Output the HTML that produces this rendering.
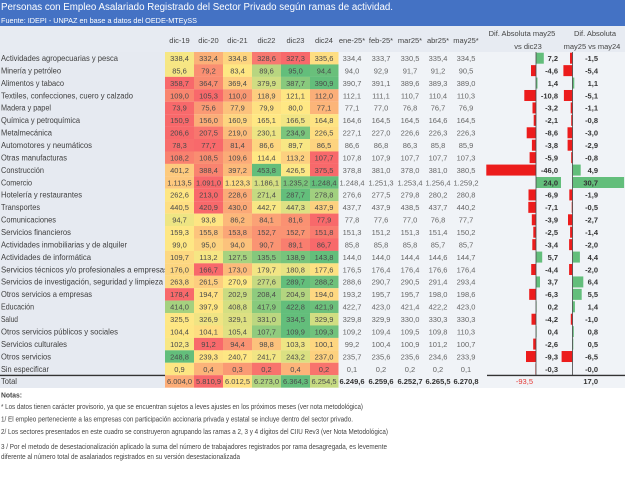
<!DOCTYPE html>
<html><head><meta charset="utf-8">
<style>
html,body{margin:0;padding:0;background:#fff;}
svg{display:block}
.t{font-family:"Liberation Sans",sans-serif;}
.l{font-family:"Liberation Sans",sans-serif;font-size:8px;fill:#404040}
.h{font-family:"Liberation Sans",sans-serif;font-size:7.5px;fill:#4a4a4a;text-anchor:middle}
.v{font-family:"Liberation Sans",sans-serif;font-size:7.5px;fill:#666;text-anchor:middle}
.vb{font-family:"Liberation Sans",sans-serif;font-size:7.5px;font-weight:bold;fill:#333;text-anchor:middle}
.d{font-family:"Liberation Sans",sans-serif;font-size:7.5px;font-weight:bold;fill:#333;text-anchor:end}
.hd{font-family:"Liberation Sans",sans-serif;font-size:7.5px;fill:#444;text-anchor:middle}
.n{font-family:"Liberation Sans",sans-serif;font-size:7px;fill:#444}
.g{fill:#63be7b}.r{fill:#ec1c1c}
</style></head>
<body>
<svg width="631" height="486" viewBox="0 0 631 486" xmlns="http://www.w3.org/2000/svg">
<rect x="0" y="0" width="631" height="486" fill="#fff"/>
<rect x="0" y="0" width="625" height="26" fill="#4472c4"/>
<text class="t" x="1" y="10" font-size="10" fill="#fff" textLength="392" lengthAdjust="spacingAndGlyphs">Personas con Empleo Asalariado Registrado del Sector Privado según ramas de actividad.</text>
<text class="t" x="1" y="23" font-size="7.5" fill="#fff" textLength="196" lengthAdjust="spacingAndGlyphs">Fuente: IDEPI - UNPAZ en base a datos del OEDE-MTEySS</text>
<rect x="0" y="26" width="625" height="26" fill="#e7ebf2"/>
<rect x="0" y="52" width="165" height="336" fill="#e6eaf1"/>
<rect x="338" y="52" width="287" height="336" fill="#f0f3f7"/>
<text class="hd" x="179.5" y="43">dic-19</text>
<text class="hd" x="208.5" y="43">dic-20</text>
<text class="hd" x="237.5" y="43">dic-21</text>
<text class="hd" x="266.5" y="43">dic22</text>
<text class="hd" x="295.5" y="43">dic23</text>
<text class="hd" x="324" y="43">dic24</text>
<text class="hd" x="352" y="43">ene-25*</text>
<text class="hd" x="381" y="43">feb-25*</text>
<text class="hd" x="410" y="43">mar25*</text>
<text class="hd" x="438" y="43">abr25*</text>
<text class="hd" x="466" y="43">may25*</text>
<text class="hd" x="522" y="36">Dif. Absoluta may25</text>
<text class="hd" x="528" y="49">vs dic23</text>
<text class="hd" x="595" y="36">Dif. Absoluta</text>
<text class="hd" x="592" y="49">may25 vs may24</text>

<!-- Row 1 -->
<g transform="translate(0,52)">
<text class="l" x="1" y="9" textLength="117" lengthAdjust="spacingAndGlyphs">Actividades agropecuarias y pesca</text>
<rect x="165" width="29" height="12.5" fill="#f6e784"/><rect x="194" width="29" height="12.5" fill="#fbb078"/><rect x="223" width="29" height="12.5" fill="#fdd580"/><rect x="252" width="29" height="12.5" fill="#f87870"/><rect x="281" width="29" height="12.5" fill="#f8696b"/><rect x="310" width="28.5" height="12.5" fill="#fede82"/>
<text class="h" x="179.5" y="9">338,4</text><text class="h" x="208.5" y="9">332,4</text><text class="h" x="237.5" y="9">334,8</text><text class="h" x="266.5" y="9">328,6</text><text class="h" x="295.5" y="9">327,3</text><text class="h" x="324" y="9">335,6</text>
<text class="v" x="352" y="9">334,4</text><text class="v" x="381" y="9">333,7</text><text class="v" x="410" y="9">330,5</text><text class="v" x="438" y="9">335,4</text><text class="v" x="466" y="9">334,5</text>
<rect class="g" x="536" y="0.7" width="7.8" height="11"/><rect class="r" x="570" y="0.7" width="2.5" height="11"/>
<text class="d" x="558" y="9">7,2</text><text class="d" x="598" y="9">-1,5</text>
</g>
<!-- Row 2 -->
<g transform="translate(0,64.43)">
<text class="l" x="1" y="9" textLength="60" lengthAdjust="spacingAndGlyphs">Minería y petróleo</text>
<rect x="165" width="29" height="12.5" fill="#f6e684"/><rect x="194" width="29" height="12.5" fill="#fa8f72"/><rect x="223" width="29" height="12.5" fill="#fee783"/><rect x="252" width="29" height="12.5" fill="#b8d680"/><rect x="281" width="29" height="12.5" fill="#63be7b"/><rect x="310" width="28.5" height="12.5" fill="#69c07b"/>
<text class="h" x="179.5" y="9">85,6</text><text class="h" x="208.5" y="9">79,2</text><text class="h" x="237.5" y="9">83,4</text><text class="h" x="266.5" y="9">89,6</text><text class="h" x="295.5" y="9">95,0</text><text class="h" x="324" y="9">94,4</text>
<text class="v" x="352" y="9">94,0</text><text class="v" x="381" y="9">92,9</text><text class="v" x="410" y="9">91,7</text><text class="v" x="438" y="9">91,2</text><text class="v" x="466" y="9">90,5</text>
<rect class="r" x="531" y="0.7" width="5" height="11"/><rect class="r" x="563.4" y="0.7" width="9.1" height="11"/>
<text class="d" x="558" y="9">-4,6</text><text class="d" x="598" y="9">-5,4</text>
</g>
<!-- Row 3 -->
<g transform="translate(0,76.86)">
<text class="l" x="1" y="9" textLength="63" lengthAdjust="spacingAndGlyphs">Alimentos y tabaco</text>
<rect x="165" width="29" height="12.5" fill="#f8696b"/><rect x="194" width="29" height="12.5" fill="#f98c71"/><rect x="223" width="29" height="12.5" fill="#fdcc7f"/><rect x="252" width="29" height="12.5" fill="#d0dd82"/><rect x="281" width="29" height="12.5" fill="#88c97d"/><rect x="310" width="28.5" height="12.5" fill="#63be7b"/>
<text class="h" x="179.5" y="9">358,7</text><text class="h" x="208.5" y="9">364,7</text><text class="h" x="237.5" y="9">369,4</text><text class="h" x="266.5" y="9">379,9</text><text class="h" x="295.5" y="9">387,7</text><text class="h" x="324" y="9">390,9</text>
<text class="v" x="352" y="9">390,7</text><text class="v" x="381" y="9">391,1</text><text class="v" x="410" y="9">389,6</text><text class="v" x="438" y="9">389,3</text><text class="v" x="466" y="9">389,0</text>
<rect class="g" x="536" y="0.7" width="1.5" height="11"/><rect class="g" x="572.5" y="0.7" width="1.8" height="11"/>
<text class="d" x="558" y="9">1,4</text><text class="d" x="598" y="9">1,1</text>
</g>
<!-- Row 4 -->
<g transform="translate(0,89.29)">
<text class="l" x="1" y="9" textLength="132" lengthAdjust="spacingAndGlyphs">Textiles, confecciones, cuero y calzado</text>
<rect x="165" width="29" height="12.5" fill="#f9866f"/><rect x="194" width="29" height="12.5" fill="#f8696b"/><rect x="223" width="29" height="12.5" fill="#fa9873"/><rect x="252" width="29" height="12.5" fill="#fdcd7f"/><rect x="281" width="29" height="12.5" fill="#fee683"/><rect x="310" width="28.5" height="12.5" fill="#fbae78"/>
<text class="h" x="179.5" y="9">109,0</text><text class="h" x="208.5" y="9">105,3</text><text class="h" x="237.5" y="9">110,0</text><text class="h" x="266.5" y="9">118,9</text><text class="h" x="295.5" y="9">121,1</text><text class="h" x="324" y="9">112,0</text>
<text class="v" x="352" y="9">112,1</text><text class="v" x="381" y="9">111,1</text><text class="v" x="410" y="9">110,7</text><text class="v" x="438" y="9">110,4</text><text class="v" x="466" y="9">110,3</text>
<rect class="r" x="524.3" y="0.7" width="11.7" height="11"/><rect class="r" x="563.9" y="0.7" width="8.6" height="11"/>
<text class="d" x="558" y="9">-10,8</text><text class="d" x="598" y="9">-5,1</text>
</g>
<!-- Row 5 -->
<g transform="translate(0,101.72)">
<text class="l" x="1" y="9" textLength="50" lengthAdjust="spacingAndGlyphs">Madera y papel</text>
<rect x="165" width="29" height="12.5" fill="#f8696b"/><rect x="194" width="29" height="12.5" fill="#fa9a74"/><rect x="223" width="29" height="12.5" fill="#fcc27c"/><rect x="252" width="29" height="12.5" fill="#fee182"/><rect x="281" width="29" height="12.5" fill="#ffe884"/><rect x="310" width="28.5" height="12.5" fill="#fcb579"/>
<text class="h" x="179.5" y="9">73,9</text><text class="h" x="208.5" y="9">75,6</text><text class="h" x="237.5" y="9">77,9</text><text class="h" x="266.5" y="9">79,9</text><text class="h" x="295.5" y="9">80,0</text><text class="h" x="324" y="9">77,1</text>
<text class="v" x="352" y="9">77,1</text><text class="v" x="381" y="9">77,0</text><text class="v" x="410" y="9">76,8</text><text class="v" x="438" y="9">76,7</text><text class="v" x="466" y="9">76,9</text>
<rect class="r" x="532.5" y="0.7" width="3.5" height="11"/><rect class="r" x="570.7" y="0.7" width="1.8" height="11"/>
<text class="d" x="558" y="9">-3,2</text><text class="d" x="598" y="9">-1,1</text>
</g>
<!-- Row 6 -->
<g transform="translate(0,114.15)">
<text class="l" x="1" y="9" textLength="79" lengthAdjust="spacingAndGlyphs">Química y petroquímica</text>
<rect x="165" width="29" height="12.5" fill="#f8696b"/><rect x="194" width="29" height="12.5" fill="#fbad78"/><rect x="223" width="29" height="12.5" fill="#fdd580"/><rect x="252" width="29" height="12.5" fill="#ffe884"/><rect x="281" width="29" height="12.5" fill="#f2e584"/><rect x="310" width="28.5" height="12.5" fill="#fee483"/>
<text class="h" x="179.5" y="9">150,9</text><text class="h" x="208.5" y="9">156,0</text><text class="h" x="237.5" y="9">160,9</text><text class="h" x="266.5" y="9">165,1</text><text class="h" x="295.5" y="9">166,5</text><text class="h" x="324" y="9">164,8</text>
<text class="v" x="352" y="9">164,6</text><text class="v" x="381" y="9">164,5</text><text class="v" x="410" y="9">164,5</text><text class="v" x="438" y="9">164,6</text><text class="v" x="466" y="9">164,5</text>
<rect class="r" x="533.7" y="0.7" width="2.3" height="11"/><rect class="r" x="571.2" y="0.7" width="1.3" height="11"/>
<text class="d" x="558" y="9">-2,1</text><text class="d" x="598" y="9">-0,8</text>
</g>
<!-- Row 7 -->
<g transform="translate(0,126.58)">
<text class="l" x="1" y="9" textLength="51" lengthAdjust="spacingAndGlyphs">Metalmecánica</text>
<rect x="165" width="29" height="12.5" fill="#f8696b"/><rect x="194" width="29" height="12.5" fill="#f8766e"/><rect x="223" width="29" height="12.5" fill="#fcbc7b"/><rect x="252" width="29" height="12.5" fill="#ede483"/><rect x="281" width="29" height="12.5" fill="#7ac57c"/><rect x="310" width="28.5" height="12.5" fill="#fedd81"/>
<text class="h" x="179.5" y="9">206,6</text><text class="h" x="208.5" y="9">207,5</text><text class="h" x="237.5" y="9">219,0</text><text class="h" x="266.5" y="9">230,1</text><text class="h" x="295.5" y="9">234,9</text><text class="h" x="324" y="9">226,5</text>
<text class="v" x="352" y="9">227,1</text><text class="v" x="381" y="9">227,0</text><text class="v" x="410" y="9">226,6</text><text class="v" x="438" y="9">226,3</text><text class="v" x="466" y="9">226,3</text>
<rect class="r" x="526.7" y="0.7" width="9.3" height="11"/><rect class="r" x="567.5" y="0.7" width="5" height="11"/>
<text class="d" x="558" y="9">-8,6</text><text class="d" x="598" y="9">-3,0</text>
</g>
<!-- Row 8 -->
<g transform="translate(0,139.01)">
<text class="l" x="1" y="9" textLength="91" lengthAdjust="spacingAndGlyphs">Automotores y neumáticos</text>
<rect x="165" width="29" height="12.5" fill="#f86d6c"/><rect x="194" width="29" height="12.5" fill="#f8696b"/><rect x="223" width="29" height="12.5" fill="#fa9c75"/><rect x="252" width="29" height="12.5" fill="#fdd680"/><rect x="281" width="29" height="12.5" fill="#f8e784"/><rect x="310" width="28.5" height="12.5" fill="#fdd37f"/>
<text class="h" x="179.5" y="9">78,3</text><text class="h" x="208.5" y="9">77,7</text><text class="h" x="237.5" y="9">81,4</text><text class="h" x="266.5" y="9">86,6</text><text class="h" x="295.5" y="9">89,7</text><text class="h" x="324" y="9">86,5</text>
<text class="v" x="352" y="9">86,6</text><text class="v" x="381" y="9">86,8</text><text class="v" x="410" y="9">86,3</text><text class="v" x="438" y="9">85,8</text><text class="v" x="466" y="9">85,9</text>
<rect class="r" x="531.9" y="0.7" width="4.1" height="11"/><rect class="r" x="567.6" y="0.7" width="4.9" height="11"/>
<text class="d" x="558" y="9">-3,8</text><text class="d" x="598" y="9">-2,9</text>
</g>
<!-- Row 9 -->
<g transform="translate(0,151.44)">
<text class="l" x="1" y="9" textLength="66" lengthAdjust="spacingAndGlyphs">Otras manufacturas</text>
<rect x="165" width="29" height="12.5" fill="#f9816f"/><rect x="194" width="29" height="12.5" fill="#f98d71"/><rect x="223" width="29" height="12.5" fill="#fbab77"/><rect x="252" width="29" height="12.5" fill="#ffe884"/><rect x="281" width="29" height="12.5" fill="#fdd07f"/><rect x="310" width="28.5" height="12.5" fill="#f8696b"/>
<text class="h" x="179.5" y="9">108,2</text><text class="h" x="208.5" y="9">108,5</text><text class="h" x="237.5" y="9">109,6</text><text class="h" x="266.5" y="9">114,4</text><text class="h" x="295.5" y="9">113,2</text><text class="h" x="324" y="9">107,7</text>
<text class="v" x="352" y="9">107,8</text><text class="v" x="381" y="9">107,9</text><text class="v" x="410" y="9">107,7</text><text class="v" x="438" y="9">107,7</text><text class="v" x="466" y="9">107,3</text>
<rect class="r" x="529.6" y="0.7" width="6.4" height="11"/><rect class="r" x="571.2" y="0.7" width="1.3" height="11"/>
<text class="d" x="558" y="9">-5,9</text><text class="d" x="598" y="9">-0,8</text>
</g>
<!-- Row 10 -->
<g transform="translate(0,163.87)">
<text class="l" x="1" y="9" textLength="43" lengthAdjust="spacingAndGlyphs">Construcción</text>
<rect x="165" width="29" height="12.5" fill="#fdca7e"/><rect x="194" width="29" height="12.5" fill="#f9836f"/><rect x="223" width="29" height="12.5" fill="#fcba7a"/><rect x="252" width="29" height="12.5" fill="#63be7b"/><rect x="281" width="29" height="12.5" fill="#fce885"/><rect x="310" width="28.5" height="12.5" fill="#f8696b"/>
<text class="h" x="179.5" y="9">401,2</text><text class="h" x="208.5" y="9">388,4</text><text class="h" x="237.5" y="9">397,2</text><text class="h" x="266.5" y="9">453,8</text><text class="h" x="295.5" y="9">426,5</text><text class="h" x="324" y="9">375,5</text>
<text class="v" x="352" y="9">378,8</text><text class="v" x="381" y="9">381,0</text><text class="v" x="410" y="9">378,0</text><text class="v" x="438" y="9">381,0</text><text class="v" x="466" y="9">380,5</text>
<rect class="r" x="486.3" y="0.7" width="49.7" height="11"/><rect class="g" x="572.5" y="0.7" width="8.2" height="11"/>
<text class="d" x="558" y="9">-46,0</text><text class="d" x="598" y="9">4,9</text>
</g>
<!-- Row 11 -->
<g transform="translate(0,176.30)">
<text class="l" x="1" y="9" textLength="31" lengthAdjust="spacingAndGlyphs">Comercio</text>
<rect x="165" width="29" height="12.5" fill="#fdc87e"/><rect x="194" width="29" height="12.5" fill="#f8696b"/><rect x="223" width="29" height="12.5" fill="#feda81"/><rect x="252" width="29" height="12.5" fill="#d6df82"/><rect x="281" width="29" height="12.5" fill="#7bc67c"/><rect x="310" width="28.5" height="12.5" fill="#63be7b"/>
<text class="h" x="179.5" y="9">1.113,5</text><text class="h" x="208.5" y="9">1.091,0</text><text class="h" x="237.5" y="9">1.123,3</text><text class="h" x="266.5" y="9">1.186,1</text><text class="h" x="295.5" y="9">1.235,2</text><text class="h" x="324" y="9">1.248,4</text>
<text class="v" x="352" y="9">1.248,4</text><text class="v" x="381" y="9">1.251,3</text><text class="v" x="410" y="9">1.253,4</text><text class="v" x="438" y="9">1.256,4</text><text class="v" x="466" y="9">1.259,2</text>
<rect class="g" x="536" y="0.7" width="25" height="11"/><rect class="g" x="572.5" y="0.7" width="51.6" height="11"/>
<text class="d" x="558" y="9">24,0</text><text class="d" x="598" y="9">30,7</text>
</g>
<!-- Row 12 -->
<g transform="translate(0,188.73)">
<text class="l" x="1" y="9" textLength="81" lengthAdjust="spacingAndGlyphs">Hotelería y restaurantes</text>
<rect x="165" width="29" height="12.5" fill="#fee683"/><rect x="194" width="29" height="12.5" fill="#f8696b"/><rect x="223" width="29" height="12.5" fill="#fbab77"/><rect x="252" width="29" height="12.5" fill="#c5da81"/><rect x="281" width="29" height="12.5" fill="#63be7b"/><rect x="310" width="28.5" height="12.5" fill="#a1d07f"/>
<text class="h" x="179.5" y="9">262,6</text><text class="h" x="208.5" y="9">213,0</text><text class="h" x="237.5" y="9">228,6</text><text class="h" x="266.5" y="9">271,4</text><text class="h" x="295.5" y="9">287,7</text><text class="h" x="324" y="9">278,8</text>
<text class="v" x="352" y="9">276,6</text><text class="v" x="381" y="9">277,5</text><text class="v" x="410" y="9">279,8</text><text class="v" x="438" y="9">280,2</text><text class="v" x="466" y="9">280,8</text>
<rect class="r" x="528.5" y="0.7" width="7.5" height="11"/><rect class="r" x="569.3" y="0.7" width="3.2" height="11"/>
<text class="d" x="558" y="9">-6,9</text><text class="d" x="598" y="9">-1,9</text>
</g>
<!-- Row 13 -->
<g transform="translate(0,201.16)">
<text class="l" x="1" y="9" textLength="39" lengthAdjust="spacingAndGlyphs">Transportes</text>
<rect x="165" width="29" height="12.5" fill="#fedf82"/><rect x="194" width="29" height="12.5" fill="#f8696b"/><rect x="223" width="29" height="12.5" fill="#fba977"/><rect x="252" width="29" height="12.5" fill="#f8e784"/><rect x="281" width="29" height="12.5" fill="#dde183"/><rect x="310" width="28.5" height="12.5" fill="#fdd17f"/>
<text class="h" x="179.5" y="9">440,5</text><text class="h" x="208.5" y="9">420,9</text><text class="h" x="237.5" y="9">430,0</text><text class="h" x="266.5" y="9">442,7</text><text class="h" x="295.5" y="9">447,3</text><text class="h" x="324" y="9">437,9</text>
<text class="v" x="352" y="9">437,7</text><text class="v" x="381" y="9">437,9</text><text class="v" x="410" y="9">438,5</text><text class="v" x="438" y="9">437,7</text><text class="v" x="466" y="9">440,2</text>
<rect class="r" x="528.3" y="0.7" width="7.7" height="11"/><rect class="r" x="571.7" y="0.7" width="0.8" height="11"/>
<text class="d" x="558" y="9">-7,1</text><text class="d" x="598" y="9">-0,5</text>
</g>
<!-- Row 14 -->
<g transform="translate(0,213.59)">
<text class="l" x="1" y="9" textLength="55" lengthAdjust="spacingAndGlyphs">Comunicaciones</text>
<rect x="165" width="29" height="12.5" fill="#eee583"/><rect x="194" width="29" height="12.5" fill="#fee583"/><rect x="223" width="29" height="12.5" fill="#fcb87a"/><rect x="252" width="29" height="12.5" fill="#fba276"/><rect x="281" width="29" height="12.5" fill="#fa9172"/><rect x="310" width="28.5" height="12.5" fill="#f8696b"/>
<text class="h" x="179.5" y="9">94,7</text><text class="h" x="208.5" y="9">93,8</text><text class="h" x="237.5" y="9">86,2</text><text class="h" x="266.5" y="9">84,1</text><text class="h" x="295.5" y="9">81,6</text><text class="h" x="324" y="9">77,9</text>
<text class="v" x="352" y="9">77,8</text><text class="v" x="381" y="9">77,6</text><text class="v" x="410" y="9">77,0</text><text class="v" x="438" y="9">76,8</text><text class="v" x="466" y="9">77,7</text>
<rect class="r" x="531.8" y="0.7" width="4.2" height="11"/><rect class="r" x="568" y="0.7" width="4.5" height="11"/>
<text class="d" x="558" y="9">-3,9</text><text class="d" x="598" y="9">-2,7</text>
</g>
<!-- Row 15 -->
<g transform="translate(0,226.02)">
<text class="l" x="1" y="9" textLength="70" lengthAdjust="spacingAndGlyphs">Servicios financieros</text>
<rect x="165" width="29" height="12.5" fill="#fee784"/><rect x="194" width="29" height="12.5" fill="#fdc47d"/><rect x="223" width="29" height="12.5" fill="#fba677"/><rect x="252" width="29" height="12.5" fill="#fa9373"/><rect x="281" width="29" height="12.5" fill="#fa9373"/><rect x="310" width="28.5" height="12.5" fill="#f97b6f"/>
<text class="h" x="179.5" y="9">159,3</text><text class="h" x="208.5" y="9">155,8</text><text class="h" x="237.5" y="9">153,8</text><text class="h" x="266.5" y="9">152,7</text><text class="h" x="295.5" y="9">152,7</text><text class="h" x="324" y="9">151,8</text>
<text class="v" x="352" y="9">151,3</text><text class="v" x="381" y="9">151,2</text><text class="v" x="410" y="9">151,3</text><text class="v" x="438" y="9">151,4</text><text class="v" x="466" y="9">150,2</text>
<rect class="r" x="533.3" y="0.7" width="2.7" height="11"/><rect class="r" x="570.1" y="0.7" width="2.4" height="11"/>
<text class="d" x="558" y="9">-2,5</text><text class="d" x="598" y="9">-1,4</text>
</g>
<!-- Row 16 -->
<g transform="translate(0,238.45)">
<text class="l" x="1" y="9" textLength="126" lengthAdjust="spacingAndGlyphs">Actividades inmobiliarias y de alquiler</text>
<rect x="165" width="29" height="12.5" fill="#fee784"/><rect x="194" width="29" height="12.5" fill="#fdd380"/><rect x="223" width="29" height="12.5" fill="#fcc27c"/><rect x="252" width="29" height="12.5" fill="#fa9473"/><rect x="281" width="29" height="12.5" fill="#f97e6f"/><rect x="310" width="28.5" height="12.5" fill="#f8696b"/>
<text class="h" x="179.5" y="9">99,0</text><text class="h" x="208.5" y="9">95,0</text><text class="h" x="237.5" y="9">94,0</text><text class="h" x="266.5" y="9">90,7</text><text class="h" x="295.5" y="9">89,1</text><text class="h" x="324" y="9">86,7</text>
<text class="v" x="352" y="9">85,8</text><text class="v" x="381" y="9">85,8</text><text class="v" x="410" y="9">85,8</text><text class="v" x="438" y="9">85,7</text><text class="v" x="466" y="9">85,7</text>
<rect class="r" x="532.3" y="0.7" width="3.7" height="11"/><rect class="r" x="569.1" y="0.7" width="3.4" height="11"/>
<text class="d" x="558" y="9">-3,4</text><text class="d" x="598" y="9">-2,0</text>
</g>
<!-- Row 17 -->
<g transform="translate(0,250.88)">
<text class="l" x="1" y="9" textLength="90" lengthAdjust="spacingAndGlyphs">Actividades de informática</text>
<rect x="165" width="29" height="12.5" fill="#fdd881"/><rect x="194" width="29" height="12.5" fill="#f6e684"/><rect x="223" width="29" height="12.5" fill="#a6d27f"/><rect x="252" width="29" height="12.5" fill="#85c87d"/><rect x="281" width="29" height="12.5" fill="#77c47c"/><rect x="310" width="28.5" height="12.5" fill="#63be7b"/>
<text class="h" x="179.5" y="9">109,7</text><text class="h" x="208.5" y="9">113,2</text><text class="h" x="237.5" y="9">127,5</text><text class="h" x="266.5" y="9">135,5</text><text class="h" x="295.5" y="9">138,9</text><text class="h" x="324" y="9">143,8</text>
<text class="v" x="352" y="9">144,0</text><text class="v" x="381" y="9">144,0</text><text class="v" x="410" y="9">144,4</text><text class="v" x="438" y="9">144,6</text><text class="v" x="466" y="9">144,7</text>
<rect class="g" x="536" y="0.7" width="6.2" height="11"/><rect class="g" x="572.5" y="0.7" width="7.4" height="11"/>
<text class="d" x="558" y="9">5,7</text><text class="d" x="598" y="9">4,4</text>
</g>
<!-- Row 18 -->
<g transform="translate(0,263.31)">
<text class="l" x="1" y="9" textLength="167" lengthAdjust="spacingAndGlyphs">Servicios técnicos y/o profesionales a empresas</text>
<rect x="165" width="29" height="12.5" fill="#fdd680"/><rect x="194" width="29" height="12.5" fill="#f8696b"/><rect x="223" width="29" height="12.5" fill="#fcba7a"/><rect x="252" width="29" height="12.5" fill="#f3e584"/><rect x="281" width="29" height="12.5" fill="#e8e383"/><rect x="310" width="28.5" height="12.5" fill="#fee182"/>
<text class="h" x="179.5" y="9">176,0</text><text class="h" x="208.5" y="9">166,7</text><text class="h" x="237.5" y="9">173,0</text><text class="h" x="266.5" y="9">179,7</text><text class="h" x="295.5" y="9">180,8</text><text class="h" x="324" y="9">177,6</text>
<text class="v" x="352" y="9">176,5</text><text class="v" x="381" y="9">176,4</text><text class="v" x="410" y="9">176,4</text><text class="v" x="438" y="9">176,6</text><text class="v" x="466" y="9">176,4</text>
<rect class="r" x="531.2" y="0.7" width="4.8" height="11"/><rect class="r" x="569.1" y="0.7" width="3.4" height="11"/>
<text class="d" x="558" y="9">-4,4</text><text class="d" x="598" y="9">-2,0</text>
</g>
<!-- Row 19 -->
<g transform="translate(0,275.74)">
<text class="l" x="1" y="9" textLength="162" lengthAdjust="spacingAndGlyphs">Servicios de investigación, seguridad y limpieza</text>
<rect x="165" width="29" height="12.5" fill="#fdd981"/><rect x="194" width="29" height="12.5" fill="#fdcd7f"/><rect x="223" width="29" height="12.5" fill="#fee884"/><rect x="252" width="29" height="12.5" fill="#c6da81"/><rect x="281" width="29" height="12.5" fill="#63be7b"/><rect x="310" width="28.5" height="12.5" fill="#6ec17b"/>
<text class="h" x="179.5" y="9">263,8</text><text class="h" x="208.5" y="9">261,5</text><text class="h" x="237.5" y="9">270,9</text><text class="h" x="266.5" y="9">277,6</text><text class="h" x="295.5" y="9">289,7</text><text class="h" x="324" y="9">288,2</text>
<text class="v" x="352" y="9">288,6</text><text class="v" x="381" y="9">290,7</text><text class="v" x="410" y="9">290,5</text><text class="v" x="438" y="9">291,4</text><text class="v" x="466" y="9">293,4</text>
<rect class="g" x="536" y="0.7" width="4" height="11"/><rect class="g" x="572.5" y="0.7" width="10.8" height="11"/>
<text class="d" x="558" y="9">3,7</text><text class="d" x="598" y="9">6,4</text>
</g>
<!-- Row 20 -->
<g transform="translate(0,288.17)">
<text class="l" x="1" y="9" textLength="91" lengthAdjust="spacingAndGlyphs">Otros servicios a empresas</text>
<rect x="165" width="29" height="12.5" fill="#f8696b"/><rect x="194" width="29" height="12.5" fill="#fee082"/><rect x="223" width="29" height="12.5" fill="#c9db81"/><rect x="252" width="29" height="12.5" fill="#8ecb7e"/><rect x="281" width="29" height="12.5" fill="#b3d580"/><rect x="310" width="28.5" height="12.5" fill="#fed881"/>
<text class="h" x="179.5" y="9">178,4</text><text class="h" x="208.5" y="9">194,7</text><text class="h" x="237.5" y="9">202,9</text><text class="h" x="266.5" y="9">208,4</text><text class="h" x="295.5" y="9">204,9</text><text class="h" x="324" y="9">194,0</text>
<text class="v" x="352" y="9">193,2</text><text class="v" x="381" y="9">195,7</text><text class="v" x="410" y="9">195,7</text><text class="v" x="438" y="9">198,0</text><text class="v" x="466" y="9">198,6</text>
<rect class="r" x="529.2" y="0.7" width="6.8" height="11"/><rect class="g" x="572.5" y="0.7" width="9.2" height="11"/>
<text class="d" x="558" y="9">-6,3</text><text class="d" x="598" y="9">5,5</text>
</g>
<!-- Row 21 -->
<g transform="translate(0,300.60)">
<text class="l" x="1" y="9" textLength="33" lengthAdjust="spacingAndGlyphs">Educación</text>
<rect x="165" width="29" height="12.5" fill="#a5d17f"/><rect x="194" width="29" height="12.5" fill="#fee683"/><rect x="223" width="29" height="12.5" fill="#d4df82"/><rect x="252" width="29" height="12.5" fill="#88ca7d"/><rect x="281" width="29" height="12.5" fill="#63be7b"/><rect x="310" width="28.5" height="12.5" fill="#6cc07b"/>
<text class="h" x="179.5" y="9">414,0</text><text class="h" x="208.5" y="9">397,9</text><text class="h" x="237.5" y="9">408,8</text><text class="h" x="266.5" y="9">417,9</text><text class="h" x="295.5" y="9">422,8</text><text class="h" x="324" y="9">421,9</text>
<text class="v" x="352" y="9">422,7</text><text class="v" x="381" y="9">423,0</text><text class="v" x="410" y="9">421,4</text><text class="v" x="438" y="9">422,2</text><text class="v" x="466" y="9">423,0</text>
<rect class="g" x="536" y="0.7" width="0.6" height="11"/><rect class="g" x="572.5" y="0.7" width="2.4" height="11"/>
<text class="d" x="558" y="9">0,2</text><text class="d" x="598" y="9">1,4</text>
</g>
<!-- Row 22 -->
<g transform="translate(0,313.03)">
<text class="l" x="1" y="9" textLength="17" lengthAdjust="spacingAndGlyphs">Salud</text>
<rect x="165" width="29" height="12.5" fill="#fee784"/><rect x="194" width="29" height="12.5" fill="#f0e483"/><rect x="223" width="29" height="12.5" fill="#dde082"/><rect x="252" width="29" height="12.5" fill="#bcd780"/><rect x="281" width="29" height="12.5" fill="#63be7b"/><rect x="310" width="28.5" height="12.5" fill="#d1de82"/>
<text class="h" x="179.5" y="9">325,5</text><text class="h" x="208.5" y="9">326,9</text><text class="h" x="237.5" y="9">329,1</text><text class="h" x="266.5" y="9">331,0</text><text class="h" x="295.5" y="9">334,5</text><text class="h" x="324" y="9">329,9</text>
<text class="v" x="352" y="9">329,8</text><text class="v" x="381" y="9">329,9</text><text class="v" x="410" y="9">330,0</text><text class="v" x="438" y="9">330,3</text><text class="v" x="466" y="9">330,3</text>
<rect class="r" x="531.5" y="0.7" width="4.5" height="11"/><rect class="r" x="570.8" y="0.7" width="1.7" height="11"/>
<text class="d" x="558" y="9">-4,2</text><text class="d" x="598" y="9">-1,0</text>
</g>
<!-- Row 23 -->
<g transform="translate(0,325.46)">
<text class="l" x="1" y="9" textLength="117" lengthAdjust="spacingAndGlyphs">Otros servicios públicos y sociales</text>
<rect x="165" width="29" height="12.5" fill="#fee683"/><rect x="194" width="29" height="12.5" fill="#fedd81"/><rect x="223" width="29" height="12.5" fill="#e0e183"/><rect x="252" width="29" height="12.5" fill="#90cb7e"/><rect x="281" width="29" height="12.5" fill="#63be7b"/><rect x="310" width="28.5" height="12.5" fill="#71c27c"/>
<text class="h" x="179.5" y="9">104,4</text><text class="h" x="208.5" y="9">104,1</text><text class="h" x="237.5" y="9">105,4</text><text class="h" x="266.5" y="9">107,7</text><text class="h" x="295.5" y="9">109,9</text><text class="h" x="324" y="9">109,3</text>
<text class="v" x="352" y="9">109,2</text><text class="v" x="381" y="9">109,4</text><text class="v" x="410" y="9">109,5</text><text class="v" x="438" y="9">109,8</text><text class="v" x="466" y="9">110,3</text>
<rect class="g" x="536" y="0.7" width="0.6" height="11"/><rect class="g" x="572.5" y="0.7" width="1.3" height="11"/>
<text class="d" x="558" y="9">0,4</text><text class="d" x="598" y="9">0,8</text>
</g>
<!-- Row 24 -->
<g transform="translate(0,337.89)">
<text class="l" x="1" y="9" textLength="66" lengthAdjust="spacingAndGlyphs">Servicios culturales</text>
<rect x="165" width="29" height="12.5" fill="#f8e784"/><rect x="194" width="29" height="12.5" fill="#f8696b"/><rect x="223" width="29" height="12.5" fill="#fa9373"/><rect x="252" width="29" height="12.5" fill="#fcc27c"/><rect x="281" width="29" height="12.5" fill="#eee584"/><rect x="310" width="28.5" height="12.5" fill="#fed680"/>
<text class="h" x="179.5" y="9">102,3</text><text class="h" x="208.5" y="9">91,2</text><text class="h" x="237.5" y="9">94,4</text><text class="h" x="266.5" y="9">98,8</text><text class="h" x="295.5" y="9">103,3</text><text class="h" x="324" y="9">100,1</text>
<text class="v" x="352" y="9">99,2</text><text class="v" x="381" y="9">100,4</text><text class="v" x="410" y="9">100,9</text><text class="v" x="438" y="9">101,2</text><text class="v" x="466" y="9">100,7</text>
<rect class="r" x="533.2" y="0.7" width="2.8" height="11"/><rect class="g" x="572.5" y="0.7" width="0.8" height="11"/>
<text class="d" x="558" y="9">-2,6</text><text class="d" x="598" y="9">0,5</text>
</g>
<!-- Row 25 -->
<g transform="translate(0,350.32)">
<text class="l" x="1" y="9" textLength="50" lengthAdjust="spacingAndGlyphs">Otros servicios</text>
<rect x="165" width="29" height="12.5" fill="#63be7b"/><rect x="194" width="29" height="12.5" fill="#fee283"/><rect x="223" width="29" height="12.5" fill="#fee784"/><rect x="252" width="29" height="12.5" fill="#f1e584"/><rect x="281" width="29" height="12.5" fill="#dae082"/><rect x="310" width="28.5" height="12.5" fill="#fdd17f"/>
<text class="h" x="179.5" y="9">248,8</text><text class="h" x="208.5" y="9">239,3</text><text class="h" x="237.5" y="9">240,7</text><text class="h" x="266.5" y="9">241,7</text><text class="h" x="295.5" y="9">243,2</text><text class="h" x="324" y="9">237,0</text>
<text class="v" x="352" y="9">235,7</text><text class="v" x="381" y="9">235,6</text><text class="v" x="410" y="9">235,6</text><text class="v" x="438" y="9">234,6</text><text class="v" x="466" y="9">233,9</text>
<rect class="r" x="526" y="0.7" width="10" height="11"/><rect class="r" x="561.6" y="0.7" width="10.9" height="11"/>
<text class="d" x="558" y="9">-9,3</text><text class="d" x="598" y="9">-6,5</text>
</g>
<!-- Row 26 -->
<g transform="translate(0,362.75)">
<text class="l" x="1" y="9" textLength="48" lengthAdjust="spacingAndGlyphs">Sin especificar</text>
<rect x="165" width="29" height="12.5" fill="#fde683"/><rect x="194" width="29" height="12.5" fill="#fcb379"/><rect x="223" width="29" height="12.5" fill="#fa9a74"/><rect x="252" width="29" height="12.5" fill="#f8736d"/><rect x="281" width="29" height="12.5" fill="#fcb379"/><rect x="310" width="28.5" height="12.5" fill="#f8736d"/>
<text class="h" x="179.5" y="9">0,9</text><text class="h" x="208.5" y="9">0,4</text><text class="h" x="237.5" y="9">0,3</text><text class="h" x="266.5" y="9">0,2</text><text class="h" x="295.5" y="9">0,4</text><text class="h" x="324" y="9">0,2</text>
<text class="v" x="352" y="9">0,1</text><text class="v" x="381" y="9">0,2</text><text class="v" x="410" y="9">0,2</text><text class="v" x="438" y="9">0,2</text><text class="v" x="466" y="9">0,1</text>
<rect class="r" x="535.4" y="0.7" width="0.6" height="11"/>
<text class="d" x="558" y="9">-0,3</text><text class="d" x="598" y="9">-0,0</text>
</g>
<!-- Total -->
<g transform="translate(0,375.18)">
<text class="l" x="1" y="9" textLength="16" lengthAdjust="spacingAndGlyphs">Total</text>
<rect x="165" width="29" height="12.5" fill="#fcad78"/><rect x="194" width="29" height="12.5" fill="#f8696b"/><rect x="223" width="29" height="12.5" fill="#fee082"/><rect x="252" width="29" height="12.5" fill="#b0d480"/><rect x="281" width="29" height="12.5" fill="#63be7b"/><rect x="310" width="28.5" height="12.5" fill="#c5da81"/>
<text class="h" x="179.5" y="9">6.004,0</text><text class="h" x="208.5" y="9">5.810,9</text><text class="h" x="237.5" y="9">6.012,5</text><text class="h" x="266.5" y="9">6.273,0</text><text class="h" x="295.5" y="9">6.364,3</text><text class="h" x="324" y="9">6.254,5</text>
<text class="vb" x="352" y="9">6.249,6</text><text class="vb" x="381" y="9">6.259,6</text><text class="vb" x="410" y="9">6.252,7</text><text class="vb" x="438" y="9">6.265,5</text><text class="vb" x="466" y="9">6.270,8</text>
<text class="t" x="533" y="9" font-size="7.5" fill="#e53935" text-anchor="end">-93,5</text><text class="d" x="598" y="9">17,0</text>
</g>

<line x1="536" y1="52" x2="536" y2="375.2" stroke="#444" stroke-width="0.8"/>
<line x1="572.5" y1="52" x2="572.5" y2="375.2" stroke="#444" stroke-width="0.8"/>
<line x1="0" y1="375.4" x2="165" y2="375.4" stroke="#333" stroke-width="1.4"/>
<line x1="487" y1="375.4" x2="625" y2="375.4" stroke="#333" stroke-width="1.4"/>

<text class="n" x="1" y="397.5" font-weight="bold" fill="#333" textLength="21" lengthAdjust="spacingAndGlyphs">Notas:</text>
<text class="n" x="1" y="409" textLength="362" lengthAdjust="spacingAndGlyphs">* Los datos tienen carácter provisorio, ya que se encuentran sujetos a leves ajustes en los próximos meses (ver nota metodológica)</text>
<text class="n" x="1" y="421.5" textLength="352" lengthAdjust="spacingAndGlyphs">1/ El empleo perteneciente a las empresas con participación accionaria privada y estatal se incluye dentro del sector privado.</text>
<text class="n" x="1" y="434" textLength="387" lengthAdjust="spacingAndGlyphs">2/ Los sectores presentados en este cuadro se construyeron agrupando las ramas a 2, 3 y 4 dígitos del CIIU Rev3 (ver Nota Metodológica)</text>
<text class="n" x="1" y="449" textLength="386" lengthAdjust="spacingAndGlyphs">3 / Por el metodo de desestacionalización aplicado la suma del número de trabajadores registrados por rama desagregada, es levemente</text>
<text class="n" x="1" y="459" textLength="239" lengthAdjust="spacingAndGlyphs">diferente al número total de asalariados registrados en su versión desestacionalizada</text>
</svg>
</body></html>
